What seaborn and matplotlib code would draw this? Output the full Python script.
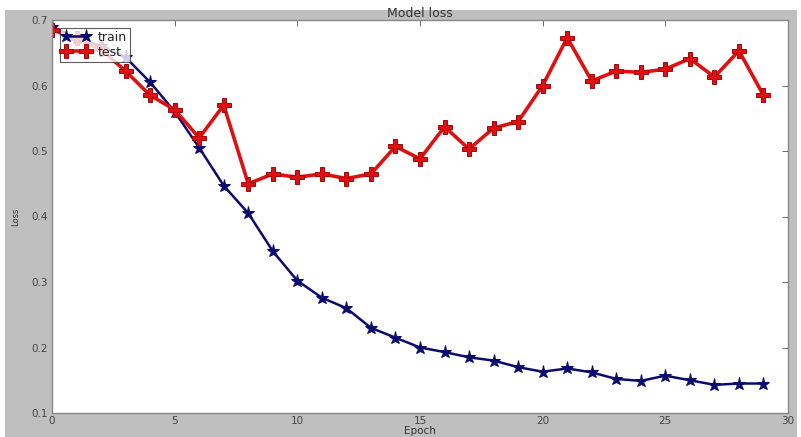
import matplotlib
matplotlib.use("Agg")
import matplotlib.pyplot as plt
from matplotlib.patches import Rectangle
import seaborn as sns
import pandas as pd

epochs = list(range(30))
train_loss = [0.690, 0.672, 0.660, 0.643, 0.605, 0.560, 0.505, 0.447, 0.405, 0.347,
              0.302, 0.276, 0.260, 0.230, 0.215, 0.200, 0.193, 0.185, 0.180, 0.170,
              0.163, 0.168, 0.162, 0.152, 0.149, 0.157, 0.150, 0.143, 0.145, 0.145]
test_loss = [0.685, 0.672, 0.655, 0.622, 0.585, 0.563, 0.520, 0.570, 0.450, 0.465,
             0.460, 0.465, 0.458, 0.465, 0.507, 0.488, 0.537, 0.503, 0.535, 0.545,
             0.600, 0.673, 0.607, 0.622, 0.620, 0.625, 0.641, 0.613, 0.653, 0.585]
x_ticks = [0, 5, 10, 15, 20, 25, 30]
y_ticks = [0.1, 0.2, 0.3, 0.4, 0.5, 0.6, 0.7]

df = pd.DataFrame({"epoch": epochs, "train": train_loss, "test": test_loss})

sns.set_style("white")
plt.rcParams["font.family"] = ["DejaVu Sans"]

fig = plt.figure(figsize=(8.01, 4.37), dpi=100)
fig.patch.set_facecolor("white")
# grey canvas behind the axes
fig.patches.append(Rectangle((5 / 801, 0), 792 / 801, 427 / 437,
                             transform=fig.transFigure, facecolor="#bfbfbf",
                             edgecolor="none", zorder=-10))

ax = fig.add_axes([52 / 801, 24 / 437, 736 / 801, 393 / 437])
ax.set_facecolor("white")

sns.lineplot(data=df, x="epoch", y="train", ax=ax, color="#0b0b6e", linewidth=1.8,
             marker="*", markersize=9.5, markeredgecolor="#0b0b6e", label="train")
sns.lineplot(data=df, x="epoch", y="test", ax=ax, color="#e01010", linewidth=2.6,
             marker="P", markersize=10, markeredgecolor="#a00808", markeredgewidth=0.7,
             label="test")

ax.set_xlim(0, 30)
ax.set_ylim(0.1, 0.7)
ax.set_xticks(x_ticks)
ax.set_xticklabels([str(t) for t in x_ticks])
ax.set_yticks(y_ticks)
ax.set_yticklabels([f"{t:.1f}" for t in y_ticks])
ax.tick_params(axis="both", direction="in", length=4, width=0.6, colors="#555555",
               labelsize=7.5, labelcolor="#444444", top=True, right=True, pad=3)
ax.tick_params(axis="x", pad=2)

for side in ["left", "bottom", "right", "top"]:
    ax.spines[side].set_visible(True)
    ax.spines[side].set_color("#888888")
    ax.spines[side].set_linewidth(1.0)

ax.set_title("Model loss", fontsize=9, color="#333333", pad=2)
ax.set_xlabel("Epoch", fontsize=7.5, color="#333333", labelpad=0)
ax.set_ylabel("Loss", fontsize=6, color="#333333", labelpad=8)

leg = ax.legend(loc="upper left", fontsize=9, frameon=True, fancybox=False,
                numpoints=2, borderpad=0.25, handlelength=2.2, handletextpad=0.6,
                labelspacing=0.15, borderaxespad=0.6)
leg.get_frame().set_edgecolor("#333333")
leg.get_frame().set_linewidth(0.8)

fig.savefig("out.png", dpi=100)
